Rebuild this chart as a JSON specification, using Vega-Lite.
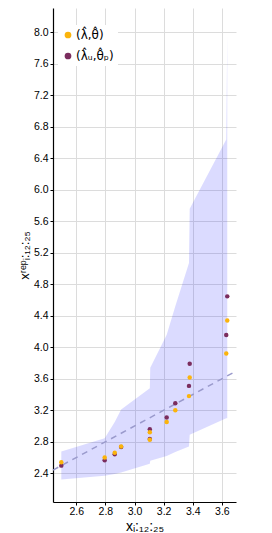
{
  "$schema": "https://vega.github.io/schema/vega-lite/v6.json",
  "width": 183,
  "height": 494,
  "autosize": {"type": "none"},
  "padding": {"left": 53, "top": 8, "right": 36, "bottom": 31},
  "background": "white",
  "config": {
    "font": "Liberation Sans",
    "view": {"stroke": null},
    "axis": {
      "domainColor": "black",
      "domainWidth": 1.2,
      "tickColor": "black",
      "tickSize": 3,
      "labelColor": "black",
      "labelFontSize": 10.5,
      "gridColor": "#dcdcdc",
      "gridWidth": 1,
      "titleColor": "black",
      "titleFontWeight": "normal"
    }
  },
  "datasets": {
    "band": [
      {"x": 2.497, "lo": 2.32, "hi": 2.675},
      {"x": 2.795, "lo": 2.37, "hi": 2.845},
      {"x": 2.864, "lo": 2.39, "hi": 3.05},
      {"x": 2.908, "lo": 2.41, "hi": 3.21},
      {"x": 3.105, "lo": 2.52, "hi": 3.48},
      {"x": 3.108, "lo": 2.56, "hi": 3.74},
      {"x": 3.221, "lo": 2.62, "hi": 4.16},
      {"x": 3.28, "lo": 2.67, "hi": 4.52},
      {"x": 3.374, "lo": 2.74, "hi": 5.07},
      {"x": 3.379, "lo": 2.89, "hi": 5.76},
      {"x": 3.63, "lo": 3.1, "hi": 6.64},
      {"x": 3.637, "lo": 3.1, "hi": 7.98}
    ],
    "diag": [
      {"x": 2.44},
      {"x": 3.697}
    ],
    "pts": [
      {"x": 2.497, "y": 2.497, "series": "(λ̂ᵤ,θ̂ₚ)"},
      {"x": 2.795, "y": 2.565, "series": "(λ̂ᵤ,θ̂ₚ)"},
      {"x": 2.864, "y": 2.64, "series": "(λ̂ᵤ,θ̂ₚ)"},
      {"x": 2.908, "y": 2.735, "series": "(λ̂ᵤ,θ̂ₚ)"},
      {"x": 3.105, "y": 2.835, "series": "(λ̂ᵤ,θ̂ₚ)"},
      {"x": 3.105, "y": 2.96, "series": "(λ̂ᵤ,θ̂ₚ)"},
      {"x": 3.221, "y": 3.107, "series": "(λ̂ᵤ,θ̂ₚ)"},
      {"x": 3.28, "y": 3.29, "series": "(λ̂ᵤ,θ̂ₚ)"},
      {"x": 3.374, "y": 3.51, "series": "(λ̂ᵤ,θ̂ₚ)"},
      {"x": 3.379, "y": 3.79, "series": "(λ̂ᵤ,θ̂ₚ)"},
      {"x": 3.63, "y": 4.156, "series": "(λ̂ᵤ,θ̂ₚ)"},
      {"x": 3.637, "y": 4.647, "series": "(λ̂ᵤ,θ̂ₚ)"},
      {"x": 2.497, "y": 2.54, "series": "(λ̂,θ̂)"},
      {"x": 2.795, "y": 2.6, "series": "(λ̂,θ̂)"},
      {"x": 2.864, "y": 2.662, "series": "(λ̂,θ̂)"},
      {"x": 2.908, "y": 2.74, "series": "(λ̂,θ̂)"},
      {"x": 3.105, "y": 2.825, "series": "(λ̂,θ̂)"},
      {"x": 3.105, "y": 2.92, "series": "(λ̂,θ̂)"},
      {"x": 3.221, "y": 3.05, "series": "(λ̂,θ̂)"},
      {"x": 3.28, "y": 3.2, "series": "(λ̂,θ̂)"},
      {"x": 3.374, "y": 3.38, "series": "(λ̂,θ̂)"},
      {"x": 3.379, "y": 3.617, "series": "(λ̂,θ̂)"},
      {"x": 3.63, "y": 3.92, "series": "(λ̂,θ̂)"},
      {"x": 3.637, "y": 4.34, "series": "(λ̂,θ̂)"}
    ]
  },
  "layer": [
    {
      "data": {"name": "band"},
      "mark": {"type": "area", "color": "#0000ff", "opacity": 0.14},
      "encoding": {
        "x": {
          "field": "x", "type": "quantitative",
          "scale": {"domain": [2.44, 3.697], "nice": false, "zero": false},
          "axis": {
            "values": [2.6, 2.8, 3.0, 3.2, 3.4, 3.6],
            "tickCount": 30,
            "format": ".1f",
            "labelOverlap": false,
            "labelFlush": false,
            "labelBound": false,
            "title": "xᵢ:₁₂:₂₅",
            "titleFontSize": 14,
            "titlePadding": 3,
            "labelPadding": 1
          }
        },
        "y": {
          "field": "hi", "type": "quantitative",
          "scale": {"domain": [2.035, 8.31], "nice": false, "zero": false},
          "axis": {
            "values": [2.4, 2.8, 3.2, 3.6, 4.0, 4.4, 4.8, 5.2, 5.6, 6.0, 6.4, 6.8, 7.2, 7.6, 8.0],
            "tickCount": 30,
            "format": ".1f",
            "labelOverlap": false,
            "labelFlush": false,
            "labelBound": false,
            "title": "xʳᵉᵖᵢ:₁₂:₂₅",
            "titleFontSize": 13,
            "titlePadding": 2,
            "labelPadding": 2
          }
        },
        "y2": {"field": "lo"}
      }
    },
    {
      "data": {"name": "diag"},
      "mark": {"type": "line", "color": "#9a9acc", "strokeWidth": 1.5, "strokeDash": [6, 5]},
      "encoding": {
        "x": {"field": "x", "type": "quantitative"},
        "y": {"field": "x", "type": "quantitative"}
      }
    },
    {
      "data": {"name": "pts"},
      "mark": {"type": "circle", "size": 20, "opacity": 1},
      "encoding": {
        "x": {"field": "x", "type": "quantitative"},
        "y": {"field": "y", "type": "quantitative"},
        "color": {
          "field": "series", "type": "nominal",
          "scale": {"domain": ["(λ̂,θ̂)", "(λ̂ᵤ,θ̂ₚ)"], "range": ["#fbb40c", "#7b2d5e"]},
          "legend": {
            "orient": "none",
            "legendX": 5,
            "legendY": 17,
            "title": null,
            "fillColor": "white",
            "padding": 4,
            "symbolType": "circle",
            "symbolSize": 45,
            "labelFont": "DejaVu Sans",
            "labelFontSize": 12,
            "labelOffset": 2,
            "rowPadding": 9
          }
        }
      }
    }
  ]
}
